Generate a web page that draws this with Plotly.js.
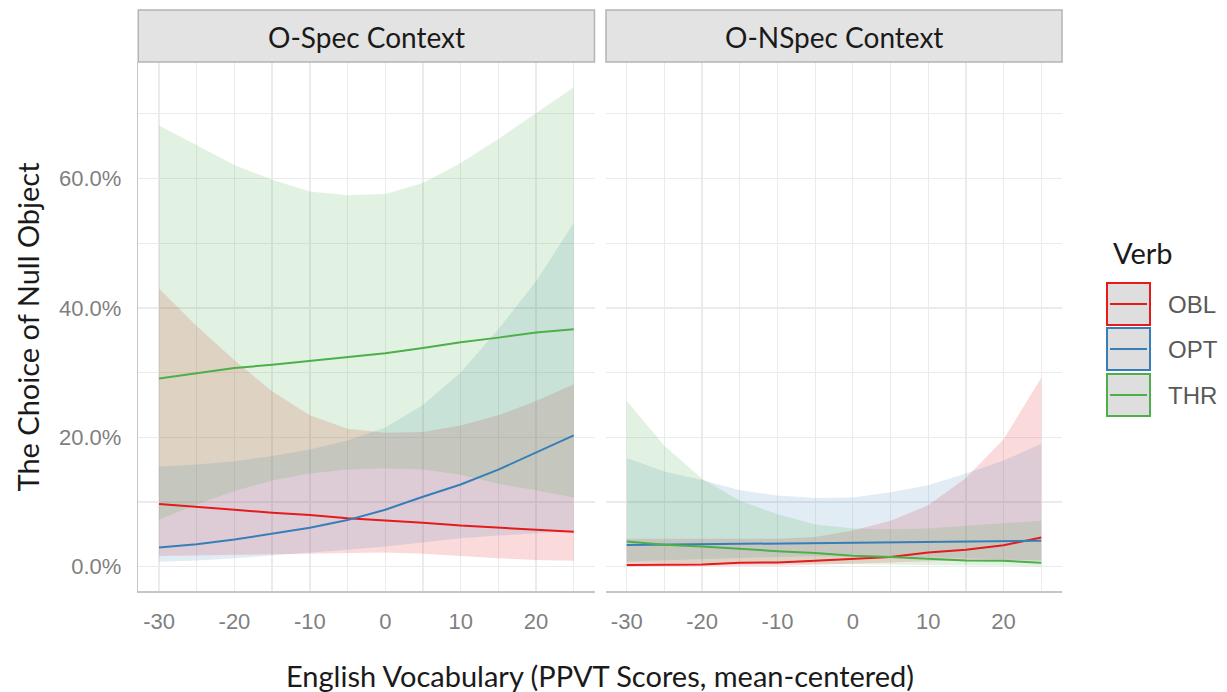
<!DOCTYPE html>
<html>
<head>
<meta charset="utf-8">
<script src="https://cdn.plot.ly/plotly-3.0.1.min.js"></script>
<style>html,body{margin:0;padding:0;background:#fff;}#chart{width:1227px;height:692px;}</style>
</head>
<body>
<div id="chart"></div>
<script>
// ---- data (percent) ----
const xVals = [-30, -25, -20, -15, -10, -5, 0, 5, 10, 15, 20, 25];
const xTickVals = [-30, -20, -10, 0, 10, 20];
const xTickText = ["-30", "-20", "-10", "0", "10", "20"];
const facets = ["O-Spec Context", "O-NSpec Context"];
const verbs = ["OBL", "OPT", "THR"];

// O-Spec Context
const specOBLFit  = [9.7, 9.3, 8.8, 8.35, 8.0, 7.5, 7.2, 6.8, 6.35, 6.0, 5.7, 5.4];
const specOBLLow  = [1.65, 1.75, 1.85, 1.95, 2.1, 2.2, 2.2, 2.0, 1.6, 1.3, 1.05, 0.9];
const specOBLHigh = [43.0, 37.2, 31.9, 27.1, 23.4, 21.3, 20.7, 20.8, 21.8, 23.4, 25.6, 28.2];
const specOPTFit  = [2.95, 3.45, 4.2, 5.1, 6.0, 7.2, 8.8, 10.8, 12.7, 15.0, 17.6, 20.3];
const specOPTLow  = [0.75, 0.95, 1.3, 1.7, 2.1, 2.6, 3.1, 3.8, 4.4, 4.8, 5.2, 5.5];
const specOPTHigh = [15.5, 15.8, 16.3, 17.1, 18.1, 19.5, 21.5, 25.0, 30.0, 36.7, 44.1, 53.1];
const specTHRFit  = [29.1, 29.9, 30.7, 31.2, 31.8, 32.4, 33.0, 33.8, 34.7, 35.4, 36.2, 36.7];
const specTHRLow  = [7.3, 9.6, 11.7, 13.3, 14.4, 15.0, 15.2, 15.0, 14.2, 12.8, 11.8, 10.7];
const specTHRHigh = [68.2, 65.1, 62.1, 59.8, 58.0, 57.4, 57.6, 59.3, 62.4, 66.1, 70.1, 74.1];

// O-NSpec Context
const nspecOBLFit  = [0.27, 0.3, 0.35, 0.6, 0.65, 0.9, 1.2, 1.5, 2.2, 2.6, 3.3, 4.5];
const nspecOBLLow  = [0.02, 0.03, 0.05, 0.1, 0.15, 0.3, 0.5, 0.7, 0.9, 1.0, 1.0, 0.9];
const nspecOBLHigh = [4.3, 4.3, 4.2, 4.2, 4.3, 4.6, 5.6, 7.1, 9.5, 13.7, 19.7, 29.2];
const nspecOPTFit  = [3.35, 3.4, 3.45, 3.55, 3.6, 3.7, 3.75, 3.8, 3.85, 3.9, 3.95, 4.0];
const nspecOPTLow  = [0.8, 1.0, 1.2, 1.4, 1.5, 1.6, 1.6, 1.6, 1.5, 1.3, 1.1, 0.9];
const nspecOPTHigh = [16.8, 14.7, 13.4, 11.8, 11.0, 10.6, 10.7, 11.5, 12.6, 14.4, 16.4, 19.0];
const nspecTHRFit  = [3.9, 3.4, 3.1, 2.7, 2.4, 2.1, 1.7, 1.5, 1.25, 0.95, 0.9, 0.6];
const nspecTHRLow  = [0.6, 0.6, 0.6, 0.6, 0.5, 0.45, 0.4, 0.3, 0.25, 0.15, 0.1, 0.05];
const nspecTHRHigh = [25.6, 18.7, 13.6, 10.2, 8.1, 6.5, 5.9, 5.8, 5.9, 6.3, 6.7, 7.1];

// ---- styling ----
const W = 1227, H = 692;
const colors = {OBL: "#E41A1C", OPT: "#377EB8", THR: "#4DAF4A"};
const fills = {OBL: "rgba(228,26,28,0.16)", OPT: "rgba(55,126,184,0.15)", THR: "rgba(77,175,74,0.16)"};
const titleFont = "Lato, 'Open Sans', sans-serif";
const tickFont = "'Liberation Sans', Arial, sans-serif";

const panelData = [
  {OBL: [specOBLFit, specOBLLow, specOBLHigh], OPT: [specOPTFit, specOPTLow, specOPTHigh], THR: [specTHRFit, specTHRLow, specTHRHigh]},
  {OBL: [nspecOBLFit, nspecOBLLow, nspecOBLHigh], OPT: [nspecOPTFit, nspecOPTLow, nspecOPTHigh], THR: [nspecTHRFit, nspecTHRLow, nspecTHRHigh]}
];

const traces = [];
panelData.forEach((pd, i) => {
  const xa = i === 0 ? "x" : "x2", ya = i === 0 ? "y" : "y2";
  verbs.forEach(v => {
    traces.push({x: xVals, y: pd[v][1], xaxis: xa, yaxis: ya, type: "scatter", mode: "lines",
      line: {width: 0, color: colors[v]}, showlegend: false, hoverinfo: "skip"});
    traces.push({x: xVals, y: pd[v][2], xaxis: xa, yaxis: ya, type: "scatter", mode: "lines",
      fill: "tonexty", fillcolor: fills[v], line: {width: 0, color: colors[v]}, showlegend: false, hoverinfo: "skip"});
  });
});
panelData.forEach((pd, i) => {
  const xa = i === 0 ? "x" : "x2", ya = i === 0 ? "y" : "y2";
  verbs.forEach(v => {
    traces.push({x: xVals, y: pd[v][0], xaxis: xa, yaxis: ya, type: "scatter", mode: "lines",
      line: {width: 2, color: colors[v]}, showlegend: false, name: v});
  });
});

const px = v => v / W, py = v => 1 - v / H;
const p1 = [138.3, 594.5], p2 = [606, 1062], pTop = 62, pBot = 591, stripTop = 10;

const gridC = "#EBEBEB";
function xAxis(dom, anchor) {
  return {domain: [px(dom[0]), px(dom[1])], anchor: anchor, range: [-32.75, 27.75],
    tickmode: "array", tickvals: xTickVals, ticktext: xTickText, ticks: "",
    showgrid: true, gridcolor: gridC, gridwidth: 1.3, zeroline: false,
    minor: {tickmode: "linear", tick0: 0, dtick: 5, showgrid: true, gridcolor: gridC, gridwidth: 1.3, ticks: ""},
    showline: true, linecolor: "#C6C6C6", linewidth: 1.5,
    tickfont: {family: tickFont, size: 22, color: "#7F7F7F"}, ticklabelstandoff: 10, fixedrange: true};
}
function yAxis(anchor, showLabels) {
  return {domain: [py(pBot), py(pTop)], anchor: anchor, range: [-3.76, 78.0],
    tickmode: "linear", tick0: 0, dtick: 20, tickformat: ".1f", ticksuffix: "%", ticks: "",
    showticklabels: showLabels, showgrid: true, gridcolor: gridC, gridwidth: 1.3, zeroline: false,
    minor: {tickmode: "linear", tick0: 0, dtick: 10, showgrid: true, gridcolor: gridC, gridwidth: 1.3, ticks: ""},
    showline: showLabels, linecolor: "#C6C6C6", linewidth: 1.5,
    tickfont: {family: tickFont, size: 22, color: "#7F7F7F"}, ticklabelstandoff: 11, fixedrange: true};
}

const shapes = [], annotations = [];
[p1, p2].forEach((p, i) => {
  shapes.push({type: "rect", xref: "paper", yref: "paper", x0: px(p[0]), x1: px(p[1]), y0: py(pTop), y1: py(stripTop),
    fillcolor: "#E3E3E3", line: {color: "#B4B4B4", width: 1.5}, layer: "above"});
  annotations.push({xref: "paper", yref: "paper", x: px((p[0] + p[1]) / 2), y: py((pTop + stripTop) / 2 + 1),
    text: facets[i], showarrow: false, xanchor: "center", yanchor: "middle",
    font: {family: titleFont, size: 28, color: "#1A1A1A"}});
});

// legend (drawn manually)
annotations.push({xref: "paper", yref: "paper", x: px(1111), y: py(253), text: "Verb", showarrow: false,
  xanchor: "left", yanchor: "middle", font: {family: titleFont, size: 29, color: "#1A1A1A"}});
const keyTops = [283, 328, 374], keyH = 42;
verbs.forEach((v, k) => {
  const t = keyTops[k];
  shapes.push({type: "rect", xref: "paper", yref: "paper", x0: px(1107), x1: px(1150), y0: py(t + keyH), y1: py(t),
    fillcolor: "#DEDEDE", line: {color: colors[v], width: 2}});
  shapes.push({type: "line", xref: "paper", yref: "paper", x0: px(1110), x1: px(1147), y0: py(t + keyH / 2), y1: py(t + keyH / 2),
    line: {color: colors[v], width: 2}});
  annotations.push({xref: "paper", yref: "paper", x: px(1166), y: py(t + keyH / 2), text: v, showarrow: false,
    xanchor: "left", yanchor: "middle", font: {family: tickFont, size: 24, color: "#595959"}});
});

// axis titles
annotations.push({xref: "paper", yref: "paper", x: px((p1[0] + p2[1]) / 2), y: py(675), text: "English Vocabulary (PPVT Scores, mean-centered)",
  showarrow: false, xanchor: "center", yanchor: "middle", font: {family: titleFont, size: 29, color: "#1A1A1A"}});
annotations.push({xref: "paper", yref: "paper", x: px(27), y: py((pTop + pBot) / 2), text: "The Choice of Null Object",
  showarrow: false, textangle: -90, xanchor: "center", yanchor: "middle", font: {family: titleFont, size: 29, color: "#1A1A1A"}});

const layout = {
  width: W, height: H, margin: {l: 0, r: 0, t: 0, b: 0},
  paper_bgcolor: "#FFFFFF", plot_bgcolor: "#FFFFFF", showlegend: false,
  xaxis: xAxis(p1, "y"), yaxis: yAxis("x", true),
  xaxis2: xAxis(p2, "y2"), yaxis2: yAxis("x2", false),
  shapes: shapes, annotations: annotations
};

Plotly.newPlot("chart", traces, layout, {displayModeBar: false, staticPlot: true});
</script>
</body>
</html>
